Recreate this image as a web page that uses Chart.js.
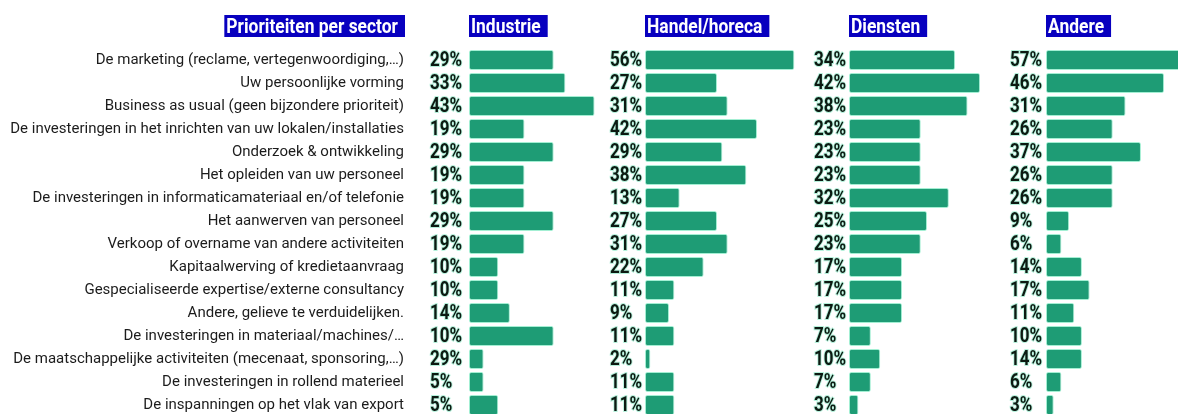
<!DOCTYPE html>
<html lang="nl">
  <head>
    <meta charset="UTF-8" />
    <title>Prioriteiten per sector</title>
    <style>
      * {
        margin: 0;
        padding: 0;
      }
      body {
        width: 1178px;
        height: 414px;
        overflow: hidden;
        background: white;
        position: relative;
      }
      canvas {
        position: absolute;
        top: 0;
      }
    </style>
  </head>
  <body>
    <canvas id="industrie" width="615" height="420" style="left: 0px"></canvas>
    <canvas id="handel" width="200" height="420" style="left: 605px"></canvas>
    <canvas id="diensten" width="200" height="420" style="left: 805px"></canvas>
    <canvas id="andere" width="200" height="420" style="left: 1000px"></canvas>

    <script src="https://cdn.jsdelivr.net/npm/chart.js"></script>

    <script>
      // data block
      const categories = [
        "De marketing (reclame, vertegenwoordiging,…)",
        "Uw persoonlijke vorming",
        "Business as usual (geen bijzondere prioriteit)",
        "De investeringen in het inrichten van uw lokalen/installaties",
        "Onderzoek & ontwikkeling",
        "Het opleiden van uw personeel",
        "De investeringen in informaticamateriaal en/of telefonie",
        "Het aanwerven van personeel",
        "Verkoop of overname van andere activiteiten",
        "Kapitaalwerving of kredietaanvraag",
        "Gespecialiseerde expertise/externe consultancy",
        "Andere, gelieve te verduidelijken.",
        "De investeringen in materiaal/machines/…",
        "De maatschappelijke activiteiten (mecenaat, sponsoring,…)",
        "De investeringen in rollend materieel",
        "De inspanningen op het vlak van export"
      ];

      // bar lengths (%) as drawn, and the percentages printed next to them
      const industrieBars = [29, 33, 43, 19, 29, 19, 19, 29, 19, 10, 10, 14, 29, 5, 5, 10];
      const industrieLabels = [29, 33, 43, 19, 29, 19, 19, 29, 19, 10, 10, 14, 10, 29, 5, 5];
      const handelBars = [56, 27, 31, 42, 29, 38, 13, 27, 31, 22, 11, 9, 11, 2, 11, 11];
      const handelLabels = [56, 27, 31, 42, 29, 38, 13, 27, 31, 22, 11, 9, 11, 2, 11, 11];
      const dienstenBars = [34, 42, 38, 23, 23, 23, 32, 25, 23, 17, 17, 17, 7, 10, 7, 3];
      const dienstenLabels = [34, 42, 38, 23, 23, 23, 32, 25, 23, 17, 17, 17, 7, 10, 7, 3];
      const andereBars = [57, 46, 31, 26, 37, 26, 26, 9, 6, 14, 17, 11, 14, 14, 6, 3];
      const andereLabels = [57, 46, 31, 26, 37, 26, 26, 9, 6, 14, 17, 11, 10, 14, 6, 3];

      const mainTitle = "Prioriteiten per sector";

      const BAR_COLOR = "#1e9c75";
      const TITLE_BG = "#0800bf";
      const TEXT_DARK = "#0c1a12";

      // draw horizontally squeezed text (mimics a condensed display face)
      function drawNarrow(ctx, text, x, y, sx, halo) {
        ctx.save();
        ctx.translate(x, y);
        ctx.scale(sx, 1);
        if (halo) {
          ctx.lineWidth = 2;
          ctx.strokeStyle = "rgba(120, 230, 190, 0.55)";
          ctx.strokeText(text, 0, 0);
        }
        ctx.fillText(text, 0, 0);
        ctx.restore();
      }

      function titleBox(ctx, text, x0, sx, alignRight) {
        ctx.font = "bold 21px Roboto";
        const w = ctx.measureText(text).width * sx;
        const left = alignRight ? x0 - w - 9 : x0;
        ctx.fillStyle = TITLE_BG;
        ctx.fillRect(left, 15, w + 9, 22);
        ctx.fillStyle = "white";
        ctx.textAlign = "left";
        ctx.textBaseline = "alphabetic";
        drawNarrow(ctx, text, left + 2, 33, sx, false);
      }

      // percent labels + panel title
      const panelDecor = {
        id: "panelDecor",
        afterDatasetsDraw(chart, args, opts) {
          const { ctx, chartArea } = chart;
          const meta = chart.getDatasetMeta(0);
          ctx.save();

          ctx.font = "bold 20px Roboto";
          ctx.textAlign = "left";
          ctx.textBaseline = "middle";
          ctx.fillStyle = TEXT_DARK;
          meta.data.forEach((bar, i) => {
            drawNarrow(ctx, opts.labels[i] + "%", chartArea.left - opts.labelGap, bar.y + 1, 0.85, true);
          });

          titleBox(ctx, opts.title, chartArea.left, 0.83, false);
          if (opts.mainTitle) {
            titleBox(ctx, opts.mainTitle, 405, 0.83, true);
          }
          ctx.restore();
        }
      };

      function makeChart(id, bars, labels, title, max, padLeft, labelGap, withAxis) {
        const config = {
          type: "bar",
          data: {
            labels: categories,
            datasets: [
              {
                data: bars,
                backgroundColor: BAR_COLOR,
                borderColor: "rgba(140, 235, 200, 0.8)",
                borderWidth: 1,
                borderRadius: 2,
                borderSkipped: false,
                categoryPercentage: 1,
                barPercentage: 20 / 23
              }
            ]
          },
          options: {
            indexAxis: "y",
            responsive: false,
            animation: false,
            layout: {
              padding: { top: 48.5, bottom: 3.5, left: padLeft, right: 0 }
            },
            scales: {
              x: { type: "linear", min: 0, max: max, display: false },
              y: {
                display: withAxis,
                grid: { display: false, drawTicks: false },
                border: { display: false },
                ticks: {
                  autoSkip: false,
                  padding: 65,
                  color: "#1c1c1c",
                  font: { family: "Roboto", size: 15 }
                },
                afterFit(scale) {
                  if (withAxis) {
                    scale.width = 469;
                    // tick padding should only push labels sideways
                    scale.paddingTop = 0;
                    scale.paddingBottom = 0;
                  }
                }
              }
            },
            plugins: {
              legend: { display: false },
              tooltip: { enabled: false },
              panelDecor: {
                labels: labels,
                title: title,
                labelGap: labelGap,
                mainTitle: withAxis ? mainTitle : null
              }
            }
          },
          plugins: [panelDecor]
        };
        return new Chart(document.getElementById(id), config);
      }

      // init render block
      makeChart("industrie", industrieBars, industrieLabels, "Industrie", 50, 0, 39, true);
      makeChart("handel", handelBars, handelLabels, "Handel/horeca", 60, 40, 35, false);
      makeChart("diensten", dienstenBars, dienstenLabels, "Diensten", 50, 44, 35, false);
      makeChart("andere", andereBars, andereLabels, "Andere", 60, 46, 36, false);
    </script>
  </body>
</html>
